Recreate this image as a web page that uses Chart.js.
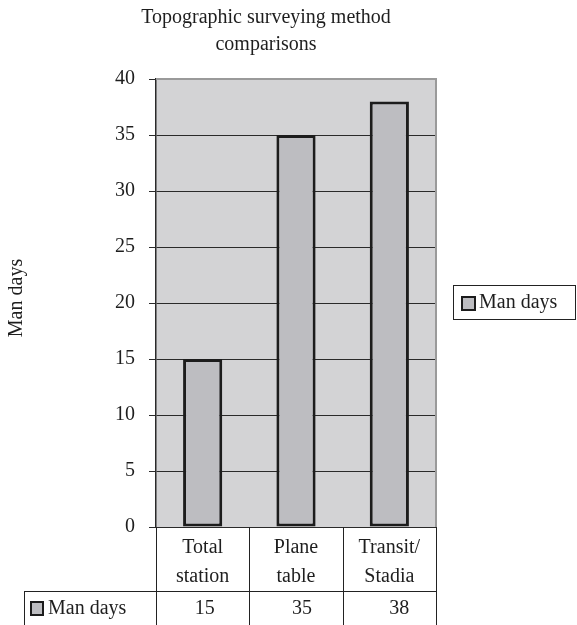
<!DOCTYPE html>
<html>
<head>
<meta charset="utf-8">
<script src="https://cdn.jsdelivr.net/npm/chart.js@4"></script>
<style>
  html, body { margin: 0; padding: 0; background: #fff; }
  #wrap { width: 577px; height: 625px; }
</style>
</head>
<body>
<div id="wrap"><canvas id="surveyChart" width="577" height="625"></canvas></div>
<script>
var categories = [["Total", "station"], ["Plane", "table"], ["Transit/", "Stadia"]];
var manDays = [15, 35, 38];
var seriesName = "Man days";
var titleLines = ["Topographic surveying method", "comparisons"];
var yTicks = [0, 5, 10, 15, 20, 25, 30, 35, 40];

var FONT = "'Liberation Serif', 'Times New Roman', serif";
var TEXT = "#1e1e1e";
var BAR_FILL = "#bdbdc1";
var BAR_EDGE = "#1c1c1c";

var extras = {
  id: "extras",
  beforeDraw: function(chart) {
    var c = chart.ctx, a = chart.chartArea;
    c.save();
    c.fillStyle = "#d3d3d5";
    c.fillRect(a.left, a.top, a.right - a.left, a.bottom - a.top);
    c.restore();
  },
  afterDraw: function(chart) {
    var c = chart.ctx, a = chart.chartArea, x = chart.scales.x;
    c.save();
    // light frame on top and right of plot
    c.strokeStyle = "#9a9a9a";
    c.lineWidth = 2;
    c.beginPath();
    c.moveTo(a.left, a.top);
    c.lineTo(a.right, a.top);
    c.lineTo(a.right, a.bottom);
    c.stroke();

    c.fillStyle = TEXT;
    c.font = "20px " + FONT;
    c.textAlign = "center";
    c.textBaseline = "middle";
    // title
    c.fillText(titleLines[0], 266, 18);
    c.fillText(titleLines[1], 266, 45);

    // y axis title
    c.save();
    c.translate(17, 298);
    c.rotate(-Math.PI / 2);
    c.fillText(seriesName, 0, 0);
    c.restore();

    // data table
    var bounds = [a.left];
    for (var i = 0; i < categories.length - 1; i++) {
      bounds.push((x.getPixelForValue(i) + x.getPixelForValue(i + 1)) / 2);
    }
    bounds.push(a.right);
    var rowTop = a.bottom, rowMid = 591, rowEnd = 625;
    c.strokeStyle = "#222";
    c.lineWidth = 1;
    c.beginPath();
    bounds.forEach(function(b) {
      var bx = Math.round(b) + 0.5;
      c.moveTo(bx, rowTop);
      c.lineTo(bx, rowEnd);
    });
    c.moveTo(24.5, rowMid + 0.5);
    c.lineTo(a.right, rowMid + 0.5);
    c.moveTo(24.5, rowMid);
    c.lineTo(24.5, rowEnd);
    c.stroke();

    categories.forEach(function(lines, i) {
      var cx = x.getPixelForValue(i);
      c.fillText(lines[0], cx, 548);
      c.fillText(lines[1], cx, 577);
      c.fillText(String(manDays[i]), cx + 2 + i * 4, 609);
    });

    // row label with swatch
    c.fillStyle = BAR_FILL;
    c.fillRect(31, 602, 12, 13);
    c.strokeStyle = BAR_EDGE;
    c.lineWidth = 2;
    c.strokeRect(31, 602, 12, 13);
    c.fillStyle = TEXT;
    c.textAlign = "left";
    c.fillText(seriesName, 48, 609);

    // legend
    c.strokeStyle = "#222";
    c.lineWidth = 1;
    c.strokeRect(453.5, 285.5, 122, 34);
    c.fillStyle = BAR_FILL;
    c.fillRect(462, 297, 13, 13);
    c.strokeStyle = BAR_EDGE;
    c.lineWidth = 2;
    c.strokeRect(462, 297, 13, 13);
    c.fillStyle = TEXT;
    c.fillText(seriesName, 479, 303);
    c.restore();
  }
};

new Chart(document.getElementById("surveyChart"), {
  type: "bar",
  data: {
    labels: categories.map(function(l) { return l.join(" "); }),
    datasets: [{
      label: seriesName,
      data: manDays,
      backgroundColor: BAR_FILL,
      borderColor: BAR_EDGE,
      borderWidth: 3,
      borderSkipped: false,
      categoryPercentage: 1,
      barPercentage: 0.42
    }]
  },
  options: {
    responsive: false,
    animation: false,
    layout: { padding: { left: 0, top: 79, right: 141, bottom: 98 } },
    plugins: {
      legend: { display: false },
      title: { display: false },
      tooltip: { enabled: false }
    },
    scales: {
      x: { display: false, offset: true },
      y: {
        min: 0,
        max: 40,
        afterFit: function(s) { s.width = 156; },
        afterBuildTicks: function(s) {
          s.ticks = yTicks.map(function(v) { return { value: v }; });
        },
        ticks: {
          stepSize: 5,
          padding: 14,
          color: TEXT,
          font: { family: FONT, size: 20 }
        },
        grid: {
          color: function(ctx) { return ctx.tick && ctx.tick.value === 40 ? "#9a9a9a" : "#2a2a2a"; },
          lineWidth: 1,
          tickLength: 7,
          tickColor: "#2a2a2a"
        },
        border: { display: true, color: "#2a2a2a", width: 1.5 }
      }
    }
  },
  plugins: [extras]
});
</script>
</body>
</html>
